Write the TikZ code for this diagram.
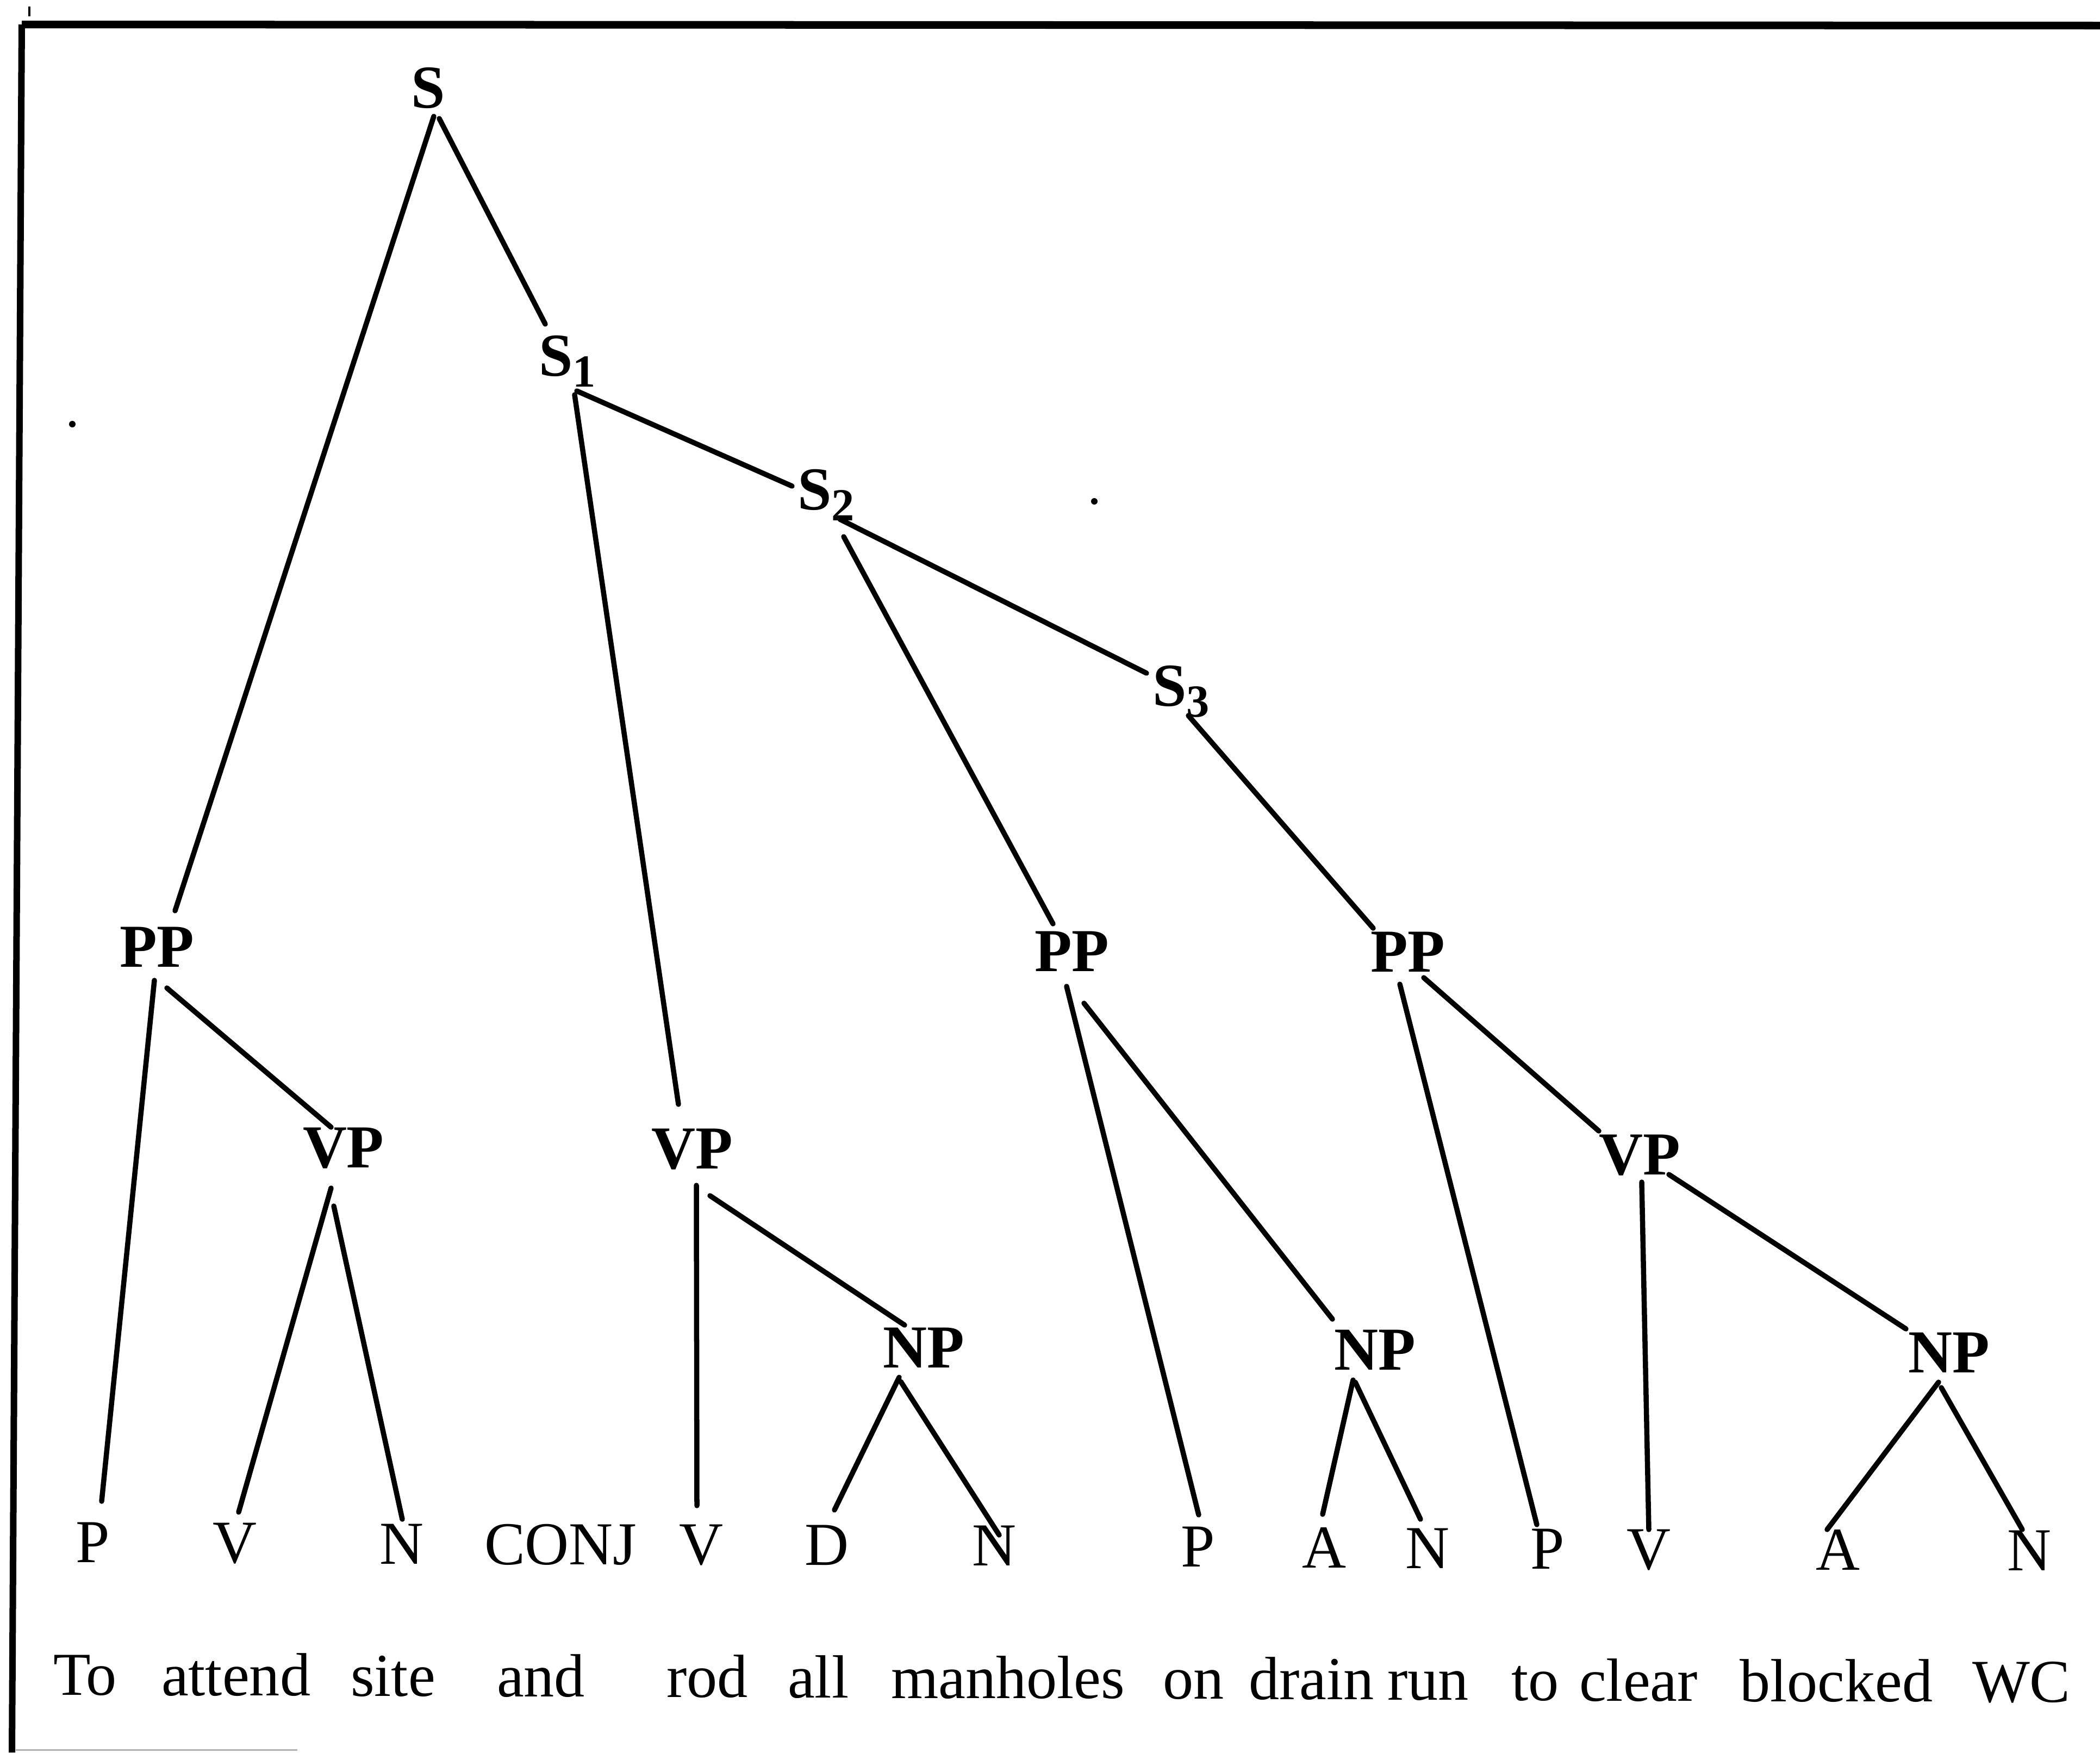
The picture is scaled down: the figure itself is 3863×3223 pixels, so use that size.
\documentclass[tikz,border=0pt]{standalone}
\usepackage{fontspec}
\setmainfont{Liberation Serif}
\newcommand\mysub[1]{\raisebox{-0.18em}{\fontsize{24}{28}\selectfont\bfseries #1}}
\begin{document}
\begin{tikzpicture}[x=0.01cm,y=-0.01cm,
  every node/.style={anchor=base west,inner sep=0pt,outer sep=0pt,font=\fontsize{31.9}{38}\selectfont},
  cat/.style={font=\fontsize{31.9}{38}\selectfont\bfseries},
  leaf/.style={},
  word/.style={},
  branch/.style={line width=0.095cm,line cap=round},
  borderline/.style={line width=0.14cm}]
\useasboundingbox (0,0) rectangle (3863,3223);
% frame
\draw[borderline] (40,45) -- (3863,47);
\draw[line width=0.12cm] (40,45) -- (22,3223);
\draw[line width=0.04cm] (54,12) -- (54,30);
\draw[line width=0.03cm,gray!60] (29,3218) -- (547,3218);
\fill (133,780) circle (6);
\fill (2013,922) circle (6);
% internal nodes
\node[cat] (S)   at (756,198)  {S};
\node[cat] (S1)  at (991,691)  {S\mysub{1}};
\node[cat] (S2)  at (1467,937) {S\mysub{2}};
\node[cat] (S3)  at (2120,1298) {S\mysub{3}};
\node[cat] (PP1) at (220,1778) {PP};
\node[cat] (PP2) at (1903,1786) {PP};
\node[cat] (PP3) at (2521,1787) {PP};
\node[cat] (VP1) at (557,2147) {VP};
\node[cat] (VP2) at (1198,2149) {VP};
\node[cat] (VP3) at (2941,2160) {VP};
\node[cat] (NP1) at (1624,2515) {NP};
\node[cat] (NP2) at (2454,2519) {NP};
\node[cat] (NP3) at (3510,2524) {NP};
% leaves
\node[leaf] (P1) at (139,2873) {P};
\node[leaf] (V1) at (391,2874) {V};
\node[leaf] (N1) at (698,2876) {N};
\node[leaf] (CJ) at (891,2877) {CONJ};
\node[leaf] (V2) at (1249,2877) {V};
\node[leaf] (D1) at (1480,2878) {D};
\node[leaf] (N2) at (1788,2879) {N};
\node[leaf] (P2) at (2172,2881) {P};
\node[leaf] (A1) at (2395,2883) {A};
\node[leaf] (N3) at (2585,2884) {N};
\node[leaf] (P3) at (2815,2885) {P};
\node[leaf] (V3) at (2992,2886) {V};
\node[leaf] (A2) at (3340,2887) {A};
\node[leaf] (N4) at (3692,2888) {N};
% words
\node[word] (w1)  at (98,3117)   {To};
\node[word] (w2)  at (297,3118)  {attend};
\node[word] (w3)  at (645,3119)  {site};
\node[word] (w4)  at (914,3120)  {and};
\node[word] (w5)  at (1226,3121) {rod};
\node[word] (w6)  at (1449,3122) {all};
\node[word] (w7)  at (1639,3123) {manholes};
\node[word] (w8)  at (2139,3124) {on};
\node[word] (w9)  at (2297,3125) {drain};
\node[word] (w10) at (2552,3126) {run};
\node[word] (w11) at (2780,3127) {to};
\node[word] (w12) at (2905,3128) {clear};
\node[word] (w13) at (3200,3129) {blocked};
\node[word] (w14) at (3628,3130) {WC};
% branches
\draw[branch] ([shift={(52,20)}]S.base west) -- ([shift={(12,-95)}]S1.base west);
\draw[branch] ([shift={(42,16)}]S.base west) -- ([shift={(102,-103)}]PP1.base west);
\draw[branch] ([shift={(66,35)}]S1.base west) -- ([shift={(50,-118)}]VP2.base west);
\draw[branch] ([shift={(70,28)}]S1.base west) -- ([shift={(-10,-43)}]S2.base west);
\draw[branch] ([shift={(85,50)}]S2.base west) -- ([shift={(34,-87)}]PP2.base west);
\draw[branch] ([shift={(78,18)}]S2.base west) -- ([shift={(-11,-60)}]S3.base west);
\draw[branch] ([shift={(66,18)}]S3.base west) -- ([shift={(5,-80)}]PP3.base west);
\draw[branch] ([shift={(64,25)}]PP1.base west) -- ([shift={(48,-112)}]P1.base west);
\draw[branch] ([shift={(87,39)}]PP1.base west) -- ([shift={(52,-74)}]VP1.base west);
\draw[branch] ([shift={(52,38)}]VP1.base west) -- ([shift={(48,-93)}]V1.base west);
\draw[branch] ([shift={(57,71)}]VP1.base west) -- ([shift={(42,-82)}]N1.base west);
\draw[branch] ([shift={(83,31)}]VP2.base west) -- ([shift={(33,-108)}]V2.base west);
\draw[branch] ([shift={(108,50)}]VP2.base west) -- ([shift={(40,-78)}]NP1.base west);
\draw[branch] ([shift={(30,18)}]NP1.base west) -- ([shift={(55,-101)}]D1.base west);
\draw[branch] ([shift={(33,26)}]NP1.base west) -- ([shift={(50,-56)}]N2.base west);
\draw[branch] ([shift={(59,28)}]PP2.base west) -- ([shift={(33,-95)}]P2.base west);
\draw[branch] ([shift={(91,59)}]PP2.base west) -- ([shift={(-3,-93)}]NP2.base west);
\draw[branch] ([shift={(35,19)}]NP2.base west) -- ([shift={(38,-98)}]A1.base west);
\draw[branch] ([shift={(39,23)}]NP2.base west) -- ([shift={(28,-90)}]N3.base west);
\draw[branch] ([shift={(54,23)}]PP3.base west) -- ([shift={(12,-81)}]P3.base west);
\draw[branch] ([shift={(98,11)}]PP3.base west) -- ([shift={(0,-80)}]VP3.base west);
\draw[branch] ([shift={(79,14)}]VP3.base west) -- ([shift={(41,-73)}]V3.base west);
\draw[branch] ([shift={(129,0)}]VP3.base west) -- ([shift={(-4,-80)}]NP3.base west);
\draw[branch] ([shift={(56,18)}]NP3.base west) -- ([shift={(21,-74)}]A2.base west);
\draw[branch] ([shift={(61,28)}]NP3.base west) -- ([shift={(28,-75)}]N4.base west);
\end{tikzpicture}
\end{document}
